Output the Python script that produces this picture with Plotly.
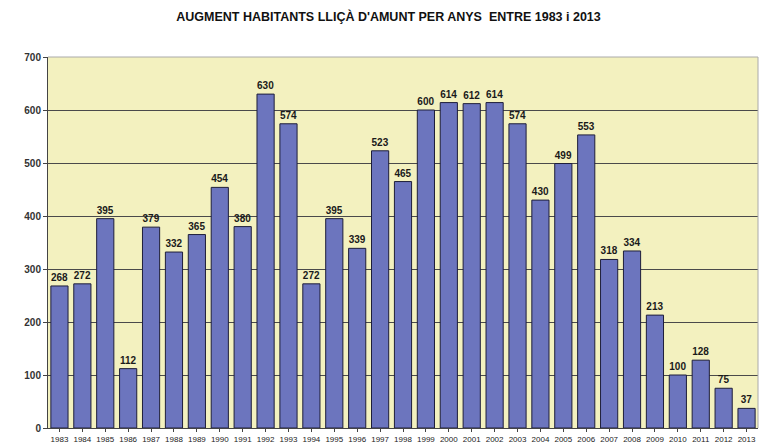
import plotly.graph_objects as go

years = [str(y) for y in range(1983, 2014)]
values = [268, 272, 395, 112, 379, 332, 365, 454, 380, 630, 574, 272, 395, 339, 523, 465,
          600, 614, 612, 614, 574, 430, 499, 553, 318, 334, 213, 100, 128, 75, 37]
title = "AUGMENT HABITANTS LLIÇÀ D'AMUNT PER ANYS  ENTRE 1983 i 2013"

# page body has an 8px default margin, so figure is 761x436 placed at (8, 8)
W, H = 761, 436

fig = go.Figure()
fig.add_trace(go.Bar(
    x=years, y=values,
    text=["<b>" + str(v) + "</b>" for v in values], textposition="outside",
    textfont=dict(family="Liberation Sans, Arial", size=10, color="#1a1a1a"),
    marker=dict(color="#6C75BE", line=dict(color="#1e1e3a", width=1)),
    cliponaxis=False,
))
fig.update_layout(
    width=W, height=H,
    margin=dict(l=40, r=11, t=49, b=16, autoexpand=False),
    paper_bgcolor="white", plot_bgcolor="#F3F1BF",
    bargap=0.25,
    showlegend=False,
    title=dict(text="<b>" + title + "</b>", x=0.5, xanchor="center", y=1 - 9 / H, yanchor="middle",
               automargin=False,
               font=dict(family="Liberation Sans, Arial", size=12.5, color="#111")),
    xaxis=dict(type="category", automargin=False,
               tickfont=dict(family="Liberation Sans, Arial", size=8, color="#222"),
               showline=True, linecolor="#444", linewidth=1, ticks="outside", ticklen=3,
               tickcolor="#444", mirror=False, showgrid=False),
    yaxis=dict(range=[0, 700], dtick=100, automargin=False,
               tickfont=dict(family="Liberation Sans, Arial", size=10, color="#333"),
               tickprefix="<b>", ticksuffix="</b>",
               showline=True, linecolor="#444", linewidth=1, ticks="outside", ticklen=4, tickcolor="#444",
               showgrid=True, gridcolor="#4a4a4a", gridwidth=1, zeroline=False),
    shapes=[
        dict(type="line", xref="paper", yref="paper", x0=0, x1=1, y0=1, y1=1, line=dict(color="#aaa", width=1)),
        dict(type="line", xref="paper", yref="paper", x0=1, x1=1, y0=0, y1=1, line=dict(color="#aaa", width=1)),
    ],
)
fig.write_html("out.html")
